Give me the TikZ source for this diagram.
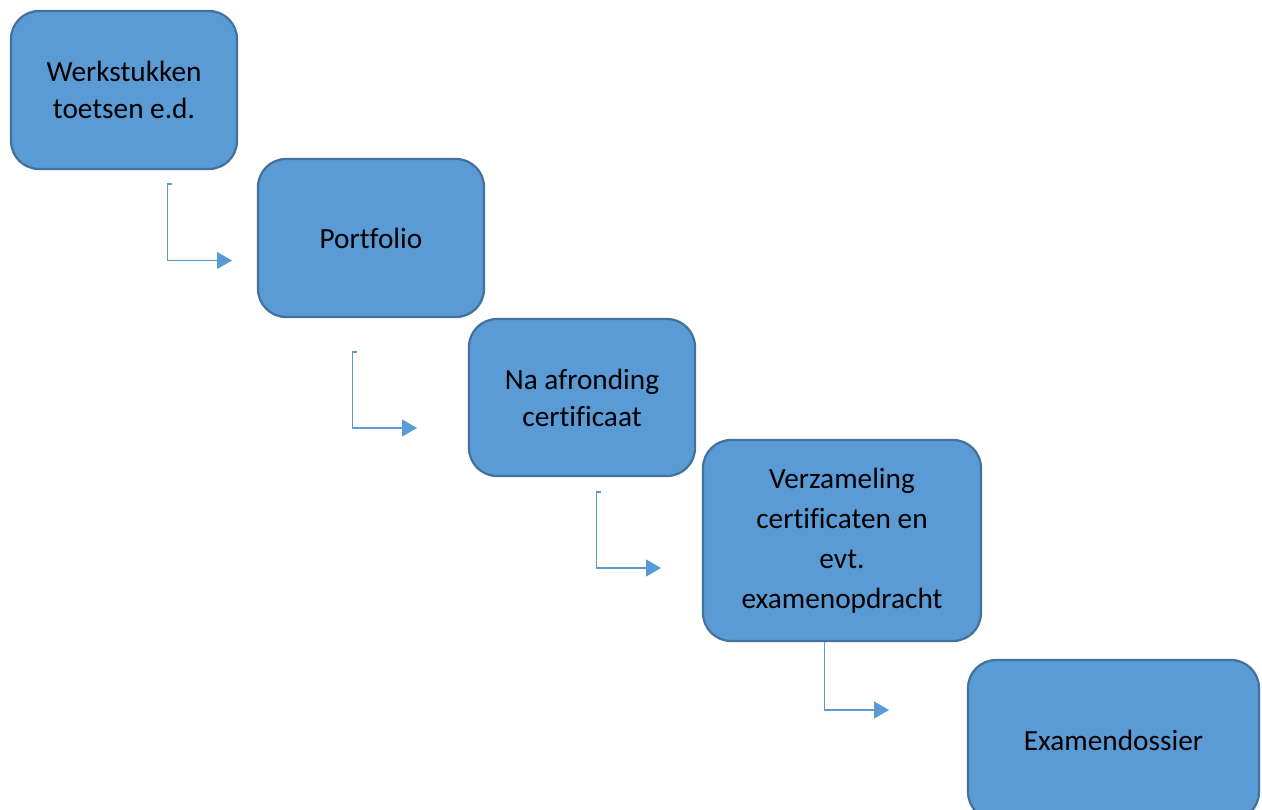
\documentclass[tikz,border=0pt]{standalone}
\usepackage{fontspec}
\setmainfont[Ligatures=CommonOff]{Carlito}
\usetikzlibrary{arrows.meta}
\definecolor{boxfill}{HTML}{5B9BD5}
\definecolor{boxline}{HTML}{41719C}
\definecolor{conn}{HTML}{5B9BD5}
\tikzset{
  stagebox/.style={draw=boxline, fill=boxfill, line width=2.2pt, rounded corners=28pt,
    align=center, font=\fontsize{29.3}{37}\selectfont, text=black, inner sep=0pt},
  flowarrow/.style={draw=conn, line width=1.4pt,
    -{Triangle[length=15pt,width=17pt]}}
}
\begin{document}
\begin{tikzpicture}[x=1pt,y=-1pt]
\useasboundingbox (0,0) rectangle (1262,810);
\clip (0,0) rectangle (1262,810);
\node[stagebox, minimum width=226pt, minimum height=158pt] (b1) at (124,90) {Werkstukken\\toetsen e.d.};
\node[stagebox, minimum width=226pt, minimum height=158pt] (b2) at (371,238) {Portfolio};
\node[stagebox, minimum width=226pt, minimum height=157pt] (b3) at (582,397.5) {Na afronding\\certificaat};
\node[stagebox, minimum width=278pt, minimum height=201pt, font=\fontsize{29.3}{40}\selectfont] (b4) at (842,540.5) {Verzameling\\certificaten en\\evt.\\examenopdracht};
\node[stagebox, minimum width=291pt, minimum height=160pt] (b5) at (1113.5,740) {Examendossier};

\coordinate (t1) at (171.5,184);
\coordinate (s1) at (167.5,184);
\coordinate (e1) at (232,260.5);
\coordinate (t2) at (356.5,352);
\coordinate (s2) at (352.5,352);
\coordinate (e2) at (417,428);
\coordinate (t3) at (600.5,492);
\coordinate (s3) at (596.5,492);
\coordinate (e3) at (661,568);
\coordinate (s4) at (824.5,641);
\coordinate (e4) at (889,710);

\draw[flowarrow] (t1) -- (s1) |- (e1);
\draw[flowarrow] (t2) -- (s2) |- (e2);
\draw[flowarrow] (t3) -- (s3) |- (e3);
\draw[flowarrow] (b4.south -| s4) |- (e4);
\end{tikzpicture}
\end{document}
